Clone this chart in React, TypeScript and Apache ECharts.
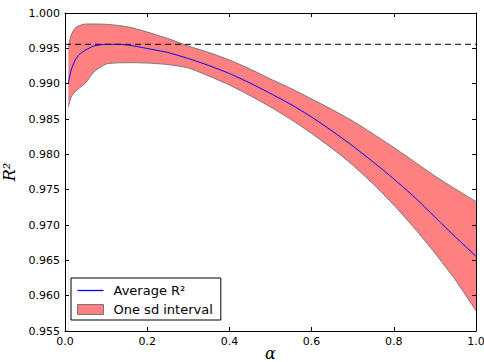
import React, { useEffect, useRef } from "react";
import * as echarts from "echarts";

const alpha = [0.008, 0.015, 0.025, 0.035, 0.05, 0.07, 0.1, 0.13, 0.16, 0.2, 0.25, 0.3, 0.35, 0.4, 0.45, 0.5, 0.55, 0.6, 0.65, 0.7, 0.75, 0.8, 0.85, 0.9, 0.95, 1.0];
const meanR2 = [0.99005, 0.99193, 0.99335, 0.99413, 0.99476, 0.99533, 0.99557, 0.99557, 0.9954, 0.99498, 0.99441, 0.99356, 0.99257, 0.99144, 0.99009, 0.98861, 0.98705, 0.98528, 0.9833, 0.98118, 0.97891, 0.97651, 0.97396, 0.97113, 0.9683, 0.96557];
const upperR2 = [0.99519, 0.99689, 0.99788, 0.99823, 0.99844, 0.99844, 0.9984, 0.99823, 0.99795, 0.99731, 0.99639, 0.99533, 0.99441, 0.99335, 0.99208, 0.99066, 0.98932, 0.98783, 0.98634, 0.98472, 0.98288, 0.98097, 0.97896, 0.97693, 0.97509, 0.9733];
const lowerR2 = [0.9867, 0.98811, 0.98889, 0.98939, 0.99009, 0.99165, 0.99278, 0.99295, 0.99297, 0.99292, 0.99271, 0.99222, 0.99108, 0.98981, 0.98832, 0.98670, 0.98493, 0.98295, 0.98083, 0.97849, 0.9758, 0.97283, 0.96957, 0.96604, 0.96222, 0.95787];
const refLevel = 0.99557;

const xMin = 0, xMax = 1, xStep = 0.2;
const yMin = 0.955, yMax = 1.0, yStep = 0.005;

const SMOOTH = 0.2;

export default function App() {
  const ref = useRef<HTMLDivElement>(null);
  useEffect(() => {
    if (!ref.current) return;
    const chart = echarts.init(ref.current, null, { renderer: "svg" });
    const pairs = (arr: number[]) => alpha.map((a, i) => [a, arr[i]]);
    const tickCommon = { inside: true, length: 4, lineStyle: { color: "#000", width: 1 } };
    const lineCommon = { show: true, onZero: false, lineStyle: { color: "#000", width: 1 } };
    const labelFont = { color: "#000", fontSize: 11, fontFamily: "DejaVu Sans" };
    chart.setOption({
      animation: false,
      backgroundColor: "#fff",
      grid: { left: 65, right: 8, top: 13, bottom: 31, containLabel: false, outerBoundsMode: "none" },
      xAxis: [
        {
          type: "value", min: xMin, max: xMax, interval: xStep, position: "bottom", z: 10,
          axisLine: lineCommon, axisTick: tickCommon, splitLine: { show: false },
          axisLabel: { ...labelFont, margin: 5, formatter: (v: number) => v.toFixed(1) },
          name: "α", nameLocation: "middle", nameGap: 14, nameMoveOverlap: false,
          nameTextStyle: { fontFamily: "DejaVu Serif", fontStyle: "italic", fontSize: 16, lineHeight: 16, color: "#000" },
        },
        {
          type: "value", min: xMin, max: xMax, interval: xStep, position: "top", z: 10,
          axisLine: lineCommon, axisTick: tickCommon, splitLine: { show: false },
          axisLabel: { show: false },
        },
      ],
      yAxis: [
        {
          type: "value", min: yMin, max: yMax, interval: yStep, position: "left", z: 10,
          axisLine: lineCommon, axisTick: tickCommon, splitLine: { show: false },
          axisLabel: { ...labelFont, margin: 5, formatter: (v: number) => v.toFixed(3) },
          name: "R²", nameLocation: "middle", nameGap: 40, nameRotate: 90,
          nameTextStyle: { fontFamily: "DejaVu Serif", fontStyle: "italic", fontSize: 16, color: "#000" },
        },
        {
          type: "value", min: yMin, max: yMax, interval: yStep, position: "right", z: 10,
          axisLine: lineCommon, axisTick: tickCommon, splitLine: { show: false },
          axisLabel: { show: false },
        },
      ],
      legend: {
        orient: "vertical", left: 71, top: 278, padding: [6, 8, 4, 6], z: 20,
        backgroundColor: "#fff", borderColor: "#000", borderWidth: 1, borderRadius: 0,
        itemWidth: 26, itemHeight: 10, itemGap: 6, symbolKeepAspect: true,
        textStyle: { fontSize: 13, fontFamily: "DejaVu Sans", color: "#000", padding: [0, 0, 0, 5] },
        data: [
          { name: "Average R²", icon: "path://M0,0 L20,0 L20,1 L0,1 Z", itemStyle: { color: "#0000ff", borderWidth: 0 } },
          { name: "One sd interval", icon: "rect", itemStyle: { color: "#ff8080", borderColor: "#777", borderWidth: 1 } },
        ],
      },
      series: [
        {
          name: "One sd interval", type: "line", data: pairs(upperR2), symbol: "none", smooth: SMOOTH,
          lineStyle: { color: "#777", width: 1 }, itemStyle: { color: "#ff8080" },
          areaStyle: { color: "#ff8080", opacity: 1, origin: "start" }, silent: true, z: 1,
        },
        {
          name: "lowerMask", type: "line", data: pairs(lowerR2), symbol: "none", smooth: SMOOTH,
          lineStyle: { color: "#777", width: 1 }, itemStyle: { color: "#777" },
          areaStyle: { color: "#fff", opacity: 1, origin: "start" }, silent: true, z: 2,
        },
        {
          name: "Average R²", type: "line", data: pairs(meanR2), symbol: "none", smooth: SMOOTH,
          lineStyle: { color: "#0000ff", width: 1 }, itemStyle: { color: "#0000ff" }, z: 3,
        },
        {
          name: "reference", type: "line", data: [[xMin, refLevel], [xMax, refLevel]], symbol: "none",
          lineStyle: { color: "#000", type: [6, 4], width: 1 }, itemStyle: { color: "#000" }, silent: true, z: 4,
        },
      ],
    });
    return () => chart.dispose();
  }, []);
  return <div ref={ref} style={{ position: "fixed", left: 0, top: 0, width: 484, height: 362 }} />;
}
